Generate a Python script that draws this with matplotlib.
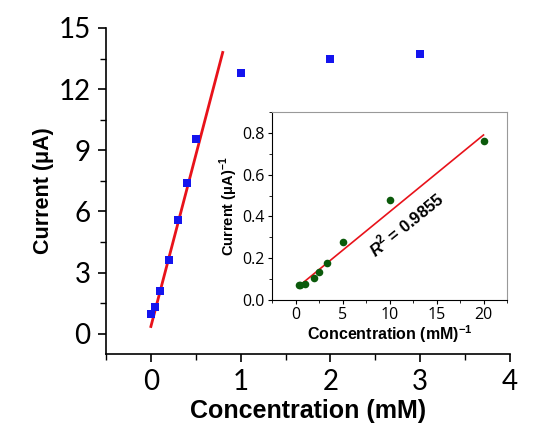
import matplotlib.pyplot as plt
import numpy as np
from matplotlib.ticker import MultipleLocator

plt.rcParams["mathtext.fontset"] = "custom"
plt.rcParams["mathtext.rm"] = "Liberation Sans:bold"
plt.rcParams["mathtext.bfit"] = "Liberation Sans:italic:bold"

# main plot: current vs concentration
conc = [0, 0.05, 0.1, 0.2, 0.3, 0.4, 0.5, 1, 2, 3]
current = [0.95, 1.3, 2.1, 3.6, 5.6, 7.4, 9.55, 12.8, 13.5, 13.7]
fit_x = [0, 0.8]
fit_y = [0.35, 13.8]

# inset: double reciprocal
inv_conc = [0.33, 0.5, 1, 2, 2.5, 3.33, 5, 10, 20]
inv_current = [0.072, 0.074, 0.077, 0.105, 0.135, 0.179, 0.28, 0.477, 0.763]
inv_fit_x = [0.4, 20]
inv_fit_y = [0.068, 0.79]

fig = plt.figure(figsize=(5.43, 4.37), dpi=100)
ax = fig.add_axes([106 / 543, 1 - 354 / 437, 404 / 543, 326 / 437])

ax.plot(fit_x, fit_y, color="#e8121a", lw=2, zorder=2)
ax.scatter(conc, current, marker="s", s=30, color="#1414ee", zorder=3, linewidths=0)
ax.set_xlim(-0.5, 4)
ax.set_ylim(-1, 15)
ax.xaxis.set_major_locator(MultipleLocator(1))
ax.xaxis.set_minor_locator(MultipleLocator(0.5))
ax.yaxis.set_major_locator(MultipleLocator(3))
ax.yaxis.set_minor_locator(MultipleLocator(1.5))
for s in ["top", "right"]:
    ax.spines[s].set_visible(False)
for s in ["left", "bottom"]:
    ax.spines[s].set_linewidth(1.2)
ax.tick_params(which="major", length=6, width=1.2, labelsize=20, pad=5)
ax.tick_params(which="minor", length=4, width=1.0)
for lab in ax.get_xticklabels() + ax.get_yticklabels():
    lab.set_family("Lato")
ax.set_xlabel("Concentration (mM)", fontsize=18, fontweight="bold",
              family="Liberation Sans", labelpad=3)
ax.set_ylabel("Current (\u03bcA)", fontsize=15.5, fontweight="bold",
              family="Liberation Sans", labelpad=3)

ins = fig.add_axes([272 / 543, 1 - 300 / 437, 235 / 543, 188 / 437])
ins.plot(inv_fit_x, inv_fit_y, color="#e8121a", lw=1.2, zorder=2)
ins.scatter(inv_conc, inv_current, s=30, color="#0b5a0b", zorder=3, linewidths=0)
ins.set_xlim(-2.5, 22.5)
ins.set_ylim(0, 0.9)
ins.xaxis.set_major_locator(MultipleLocator(5))
ins.xaxis.set_minor_locator(MultipleLocator(2.5))
ins.yaxis.set_major_locator(MultipleLocator(0.2))
ins.yaxis.set_minor_locator(MultipleLocator(0.1))
ins.yaxis.set_major_formatter(plt.FormatStrFormatter("%.1f"))
for s in ["top", "right"]:
    ins.spines[s].set_color("#999999")
ins.tick_params(which="major", length=3, width=0.8, labelsize=11.5, pad=2)
ins.tick_params(which="minor", length=2, width=0.6)
for lab in ins.get_xticklabels() + ins.get_yticklabels():
    lab.set_family("Open Sans")
ins.set_xlabel("Concentration (mM)$^{-1}$", fontsize=11.5, fontweight="bold",
               family="Liberation Sans", labelpad=0)
ins.set_ylabel("Current (\u03bcA)$^{-1}$", fontsize=10.5, fontweight="bold",
               family="Liberation Sans", labelpad=2)
ins.text(11.8, 0.365, r"$\mathbfit{R}^{2}$ = 0.9855", rotation=39, fontsize=12,
         fontweight="bold", family="Liberation Sans", ha="center", va="center",
         rotation_mode="anchor")

fig.savefig("out.png", dpi=100)
